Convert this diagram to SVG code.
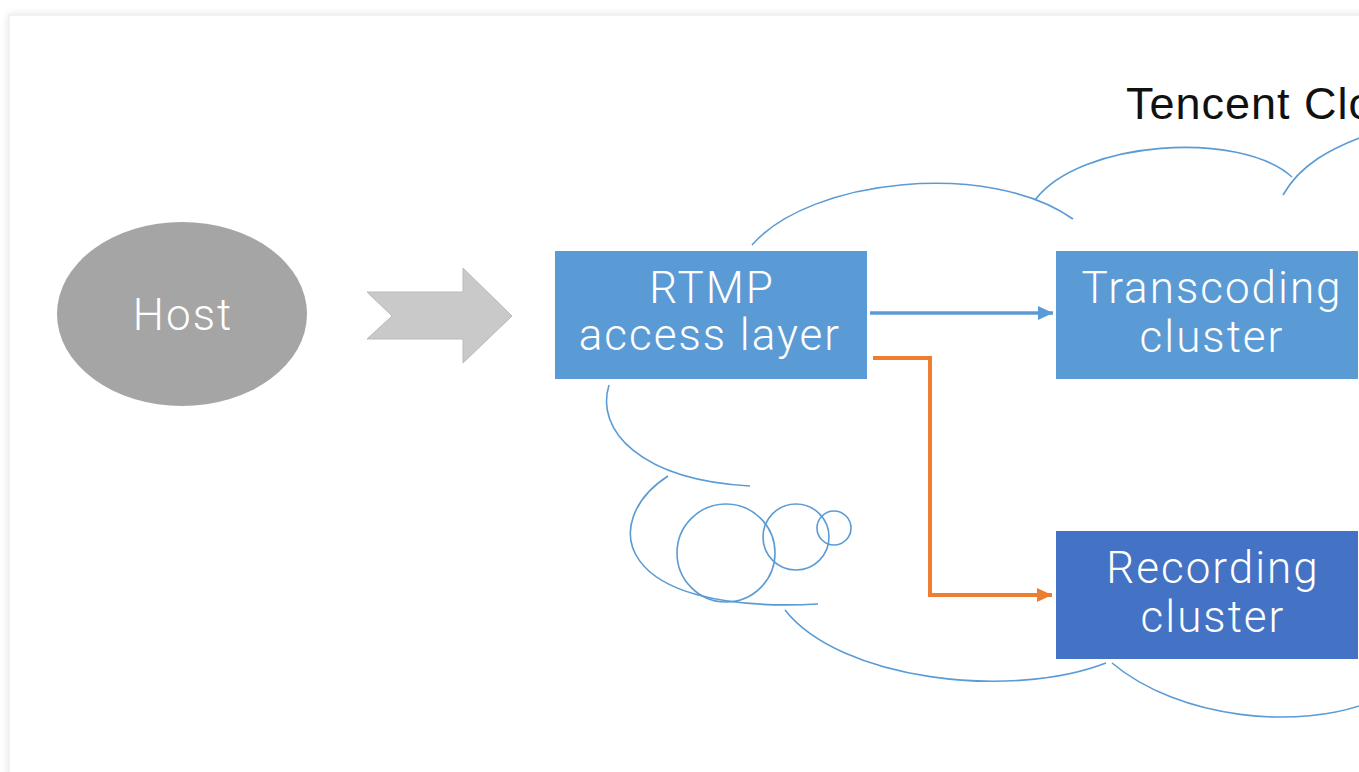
<svg xmlns="http://www.w3.org/2000/svg" width="1359" height="772" viewBox="0 0 1359 772">
  <defs>
    <filter id="shadow" x="-5%" y="-5%" width="110%" height="110%">
      <feGaussianBlur in="SourceAlpha" stdDeviation="4"/>
      <feComponentTransfer><feFuncA type="linear" slope="0.12"/></feComponentTransfer>
      <feMerge><feMergeNode/><feMergeNode in="SourceGraphic"/></feMerge>
    </filter>
    <marker id="headBlue" markerUnits="userSpaceOnUse" markerWidth="16" markerHeight="16" viewBox="0 0 16 16" refX="15" refY="8" orient="auto">
      <path d="M0,1 L15,8 L0,15 Z" fill="#5B9BD5"/>
    </marker>
    <marker id="headOrange" markerUnits="userSpaceOnUse" markerWidth="16" markerHeight="16" viewBox="0 0 16 16" refX="15" refY="8" orient="auto">
      <path d="M0,1 L15,8 L0,15 Z" fill="#ED7D31"/>
    </marker>
  </defs>
  <style>
    .cloud { fill: none; stroke: #5B9BD5; stroke-width: 1.6; }
    .label { font-family: Roboto, "Liberation Sans", sans-serif; font-weight: 300; font-size: 44px; letter-spacing: 2px; fill: #ffffff; text-anchor: middle; }
    .title { font-family: "Liberation Sans", Arial, sans-serif; font-size: 45px; letter-spacing: 1px; fill: #111111; }
  </style>
  <rect width="1359" height="772" fill="#ffffff"/>
  <rect x="9" y="15" width="1400" height="800" fill="#ffffff" stroke="#e8e8e8" stroke-width="1" filter="url(#shadow)"/>

  <g id="cloud">
    <path class="cloud" d="M752,245 C810,178 990,160 1073,219"/>
    <path class="cloud" d="M1035,200 C1080,140 1240,130 1292,177"/>
    <path class="cloud" d="M1283,195 C1300,165 1330,148 1370,134"/>
    <path class="cloud" d="M609,385 C595,430 640,480 750,486"/>
    <path class="cloud" d="M668,476 C600,520 610,615 818,604"/>
    <path class="cloud" d="M785,610 C840,680 1010,700 1106,663"/>
    <path class="cloud" d="M1112,663 C1180,720 1300,730 1370,702"/>
    <circle class="cloud" cx="726" cy="553" r="49"/>
    <circle class="cloud" cx="796" cy="537" r="33"/>
    <circle class="cloud" cx="834" cy="528" r="17"/>
    <text class="title" x="1126" y="119">Tencent Cloud</text>
  </g>

  <g id="host">
    <ellipse cx="182" cy="314" rx="125" ry="92" fill="#A5A5A5"/>
    <text class="label" x="183" y="330">Host</text>
  </g>

  <g id="push-arrow">
    <polygon points="367,292 463,292 463,268 512,316 463,363 463,339 367,339 392,316" fill="#C9C9C9" stroke="#BBBBBB" stroke-width="1"/>
  </g>

  <g id="rtmp">
    <rect x="555" y="251" width="312" height="128" fill="#5B9BD5"/>
    <text class="label" x="712" y="303">RTMP</text>
    <text class="label" x="710" y="350">access layer</text>
  </g>

  <g id="transcoding">
    <rect x="1056" y="251" width="302" height="128" fill="#5B9BD5"/>
    <text class="label" x="1212" y="303">Transcoding</text>
    <text class="label" x="1212" y="352">cluster</text>
  </g>

  <g id="recording">
    <rect x="1056" y="531" width="302" height="128" fill="#4472C4"/>
    <text class="label" x="1213" y="583">Recording</text>
    <text class="label" x="1213" y="632">cluster</text>
  </g>

  <g id="connectors">
    <line x1="870" y1="313" x2="1053" y2="313" stroke="#5B9BD5" stroke-width="3.5" marker-end="url(#headBlue)"/>
    <polyline points="873,358 930,358 930,595 1052,595" fill="none" stroke="#ED7D31" stroke-width="4" marker-end="url(#headOrange)"/>
  </g>
</svg>
